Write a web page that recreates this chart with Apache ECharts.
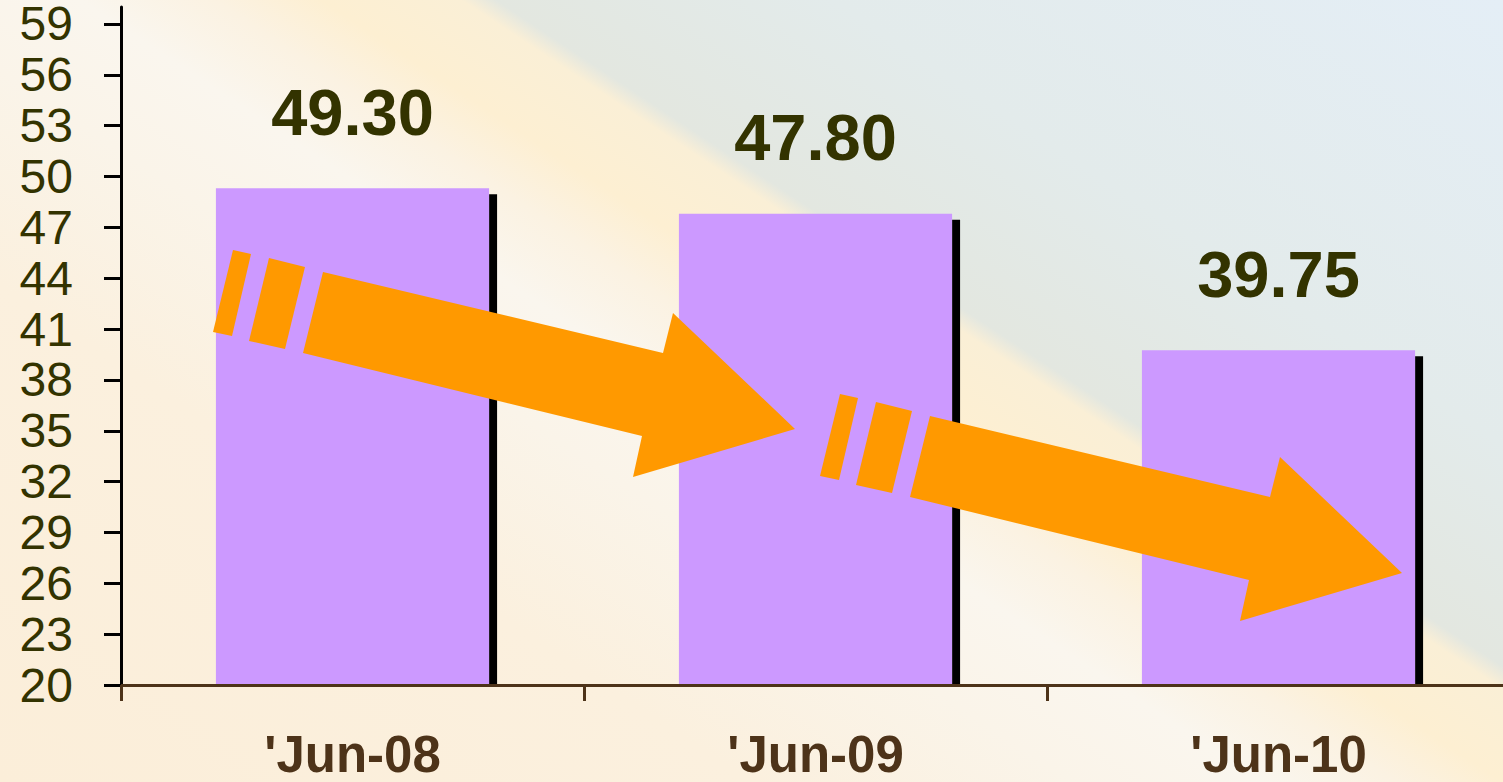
<!DOCTYPE html>
<html>
<head>
<meta charset="utf-8">
<script src="https://cdn.jsdelivr.net/npm/echarts@6/dist/echarts.min.js"></script>
<style>
  html, body { margin: 0; padding: 0; }
  body {
    width: 1503px; height: 782px; overflow: hidden;
    background: linear-gradient(213.5deg, #E4EEF6 0%, #E3EBEB 25%, #E3E7E0 37.5%, #FAEFD6 38.8%, #FDEFD2 44%, #FBF2E2 48%, #FAF6EE 53%, #FAF4E9 60%, #FBF0DE 72%, #FBEED9 100%);
  }
  #chart { width: 1503px; height: 782px; }
</style>
</head>
<body>
<div id="chart"></div>
<script>
const categories = ["'Jun-08", "'Jun-09", "'Jun-10"];
const values = [49.30, 47.80, 39.75];
const yTicks = [20, 23, 26, 29, 32, 35, 38, 41, 44, 47, 50, 53, 56, 59];
const Y_MIN = 20;
const Y_MAX = 60;

const chart = echarts.init(document.getElementById('chart'), null, { renderer: 'svg' });

function arrowShapes(dx, dy) {
  const shaft = [[323,272],[663,353],[673,313],[795,429],[633,477],[642,436],[303,353]];
  const dash1 = [[233,250],[251,254],[232,336],[213,332]];
  const dash2 = [[269,258],[305,267],[285,349],[249,341]];
  return [shaft, dash1, dash2].map(pts => ({
    type: 'polygon',
    z: 100,
    shape: { points: pts.map(p => [p[0] + dx, p[1] + dy]) },
    style: { fill: '#FF9900' }
  }));
}

const option = {
  backgroundColor: 'transparent',
  animation: false,
  grid: { left: 121, right: -7, top: 7, bottom: 97, containLabel: false, outerBoundsMode: 'none' },
  xAxis: {
    type: 'category',
    data: categories,
    z: 10,
    axisLine: { lineStyle: { color: '#4D3319', width: 3 } },
    axisTick: { show: true, length: 16, lineStyle: { color: '#4D3319', width: 3 } },
    axisLabel: {
      margin: 51,
      color: '#4D3319',
      fontFamily: 'Liberation Sans, Arial, sans-serif',
      fontWeight: 'bold',
      fontSize: 51,
      lineHeight: 36
    },
    splitLine: { show: false }
  },
  yAxis: {
    type: 'value',
    min: Y_MIN,
    max: Y_MAX,
    z: 10,
    axisLine: { show: true, lineStyle: { color: '#000000', width: 3 } },
    axisTick: { show: true, length: 17, customValues: yTicks, lineStyle: { color: '#000000', width: 3 } },
    axisLabel: {
      customValues: yTicks,
      margin: 48,
      color: '#333300',
      fontFamily: 'Liberation Sans, Arial, sans-serif',
      fontSize: 48,
      lineHeight: 36
    },
    splitLine: { show: false }
  },
  series: [{
    type: 'custom',
    data: values.map((v, i) => [i, v]),
    encode: { x: 0, y: 1 },
    renderItem: function (params, api) {
      const i = api.value(0);
      const v = api.value(1);
      const top = api.coord([i, v]);
      const base = api.coord([i, Y_MIN]);
      const band = api.size([1, 0])[0];
      const w = band * 0.59;
      const x = top[0] - w / 2;
      const h = base[1] - top[1];
      return {
        type: 'group',
        children: [
          { type: 'rect', shape: { x: x + w, y: top[1] + 6, width: 8, height: h - 6 }, style: { fill: '#000000' } },
          { type: 'rect', shape: { x: x, y: top[1], width: w, height: h }, style: { fill: '#CC99FF' } },
          { type: 'text', style: {
              text: v.toFixed(2), x: top[0], y: top[1] - 76,
              align: 'center', verticalAlign: 'middle',
              font: 'bold 65px "Liberation Sans", Arial, sans-serif',
              fill: '#333300'
          } }
        ]
      };
    }
  }],
  graphic: [].concat(arrowShapes(0, 0), arrowShapes(607, 144))
};

chart.setOption(option);
</script>
</body>
</html>
